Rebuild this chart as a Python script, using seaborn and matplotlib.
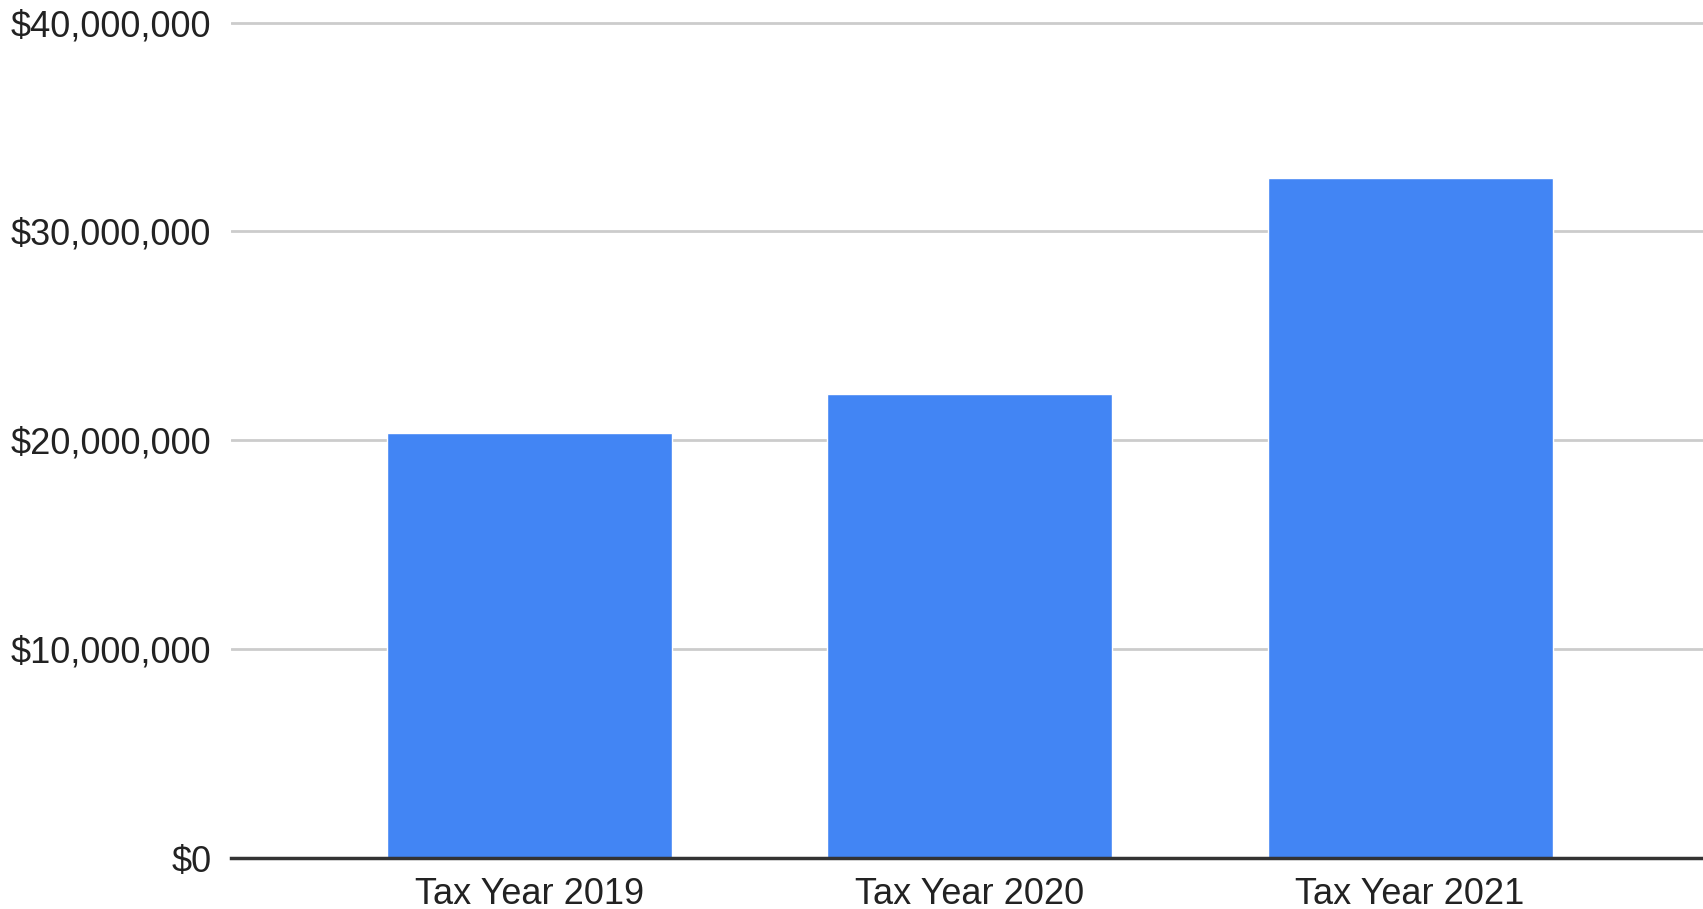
import matplotlib
matplotlib.use("Agg")
import matplotlib.pyplot as plt
import matplotlib.ticker as mticker
import seaborn as sns
import pandas as pd

# Values per tax year (USD)
categories = ["Tax Year 2019", "Tax Year 2020", "Tax Year 2021"]
amounts = [20_330_000, 22_210_000, 32_570_000]
y_ticks = [0, 10_000_000, 20_000_000, 30_000_000, 40_000_000]

df = pd.DataFrame({"year": categories, "amount": amounts})

sns.set_theme(style="white")
plt.rcParams["font.family"] = ["Liberation Sans", "DejaVu Sans"]

fig = plt.figure(figsize=(17.03, 9.09), dpi=100)
ax = fig.add_axes([0.1356, 0.0561, 0.8644, 0.9329])

sns.barplot(data=df, x="year", y="amount", color="#4285F4", saturation=1,
            width=0.647, ax=ax, zorder=3)

ax.set_xlim(-0.677, 2.665)
ax.set_ylim(0, 40_600_000)
ax.set_yticks(y_ticks)
ax.yaxis.set_major_formatter(mticker.FuncFormatter(lambda v, p: f"${v:,.0f}"))

ax.grid(axis="y", color="#cccccc", linewidth=2, zorder=0)
ax.grid(axis="x", visible=False)
for side in ["top", "right", "left"]:
    ax.spines[side].set_visible(False)
ax.spines["bottom"].set_color("#333333")
ax.spines["bottom"].set_linewidth(2.5)
ax.spines["bottom"].set_zorder(4)

ax.tick_params(axis="y", length=0, pad=14, labelsize=26, labelcolor="#222222")
ax.tick_params(axis="x", length=0, pad=14, labelsize=26, labelcolor="#222222")
ax.set_xlabel("")
ax.set_ylabel("")

fig.savefig("out.png", dpi=100)
